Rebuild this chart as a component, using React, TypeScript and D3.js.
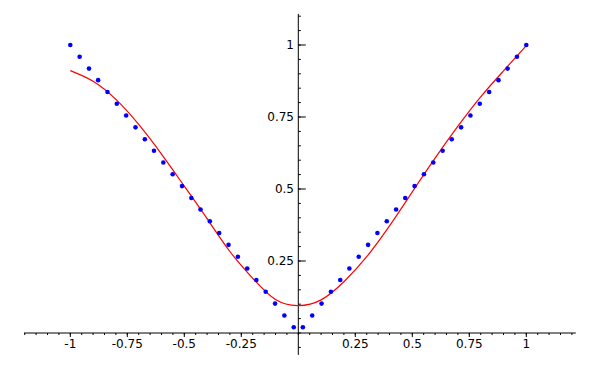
import React from "react";
import * as d3 from "d3";

// Blue data points (x, |x|)
const pointX = [-1, -0.959, -0.918, -0.878, -0.837, -0.796, -0.755, -0.714, -0.673, -0.633, -0.592, -0.551, -0.51, -0.469, -0.429, -0.388, -0.347, -0.306, -0.265, -0.224, -0.184, -0.143, -0.102, -0.061, -0.02, 0.02, 0.061, 0.102, 0.143, 0.184, 0.224, 0.265, 0.306, 0.347, 0.388, 0.429, 0.469, 0.51, 0.551, 0.592, 0.633, 0.673, 0.714, 0.755, 0.796, 0.837, 0.878, 0.918, 0.959, 1];
const pointY = [1, 0.959, 0.918, 0.878, 0.837, 0.796, 0.755, 0.714, 0.673, 0.633, 0.592, 0.551, 0.51, 0.469, 0.429, 0.388, 0.347, 0.306, 0.265, 0.224, 0.184, 0.143, 0.102, 0.061, 0.02, 0.02, 0.061, 0.102, 0.143, 0.184, 0.224, 0.265, 0.306, 0.347, 0.388, 0.429, 0.469, 0.51, 0.551, 0.592, 0.633, 0.673, 0.714, 0.755, 0.796, 0.837, 0.878, 0.918, 0.959, 1];

// Red fitted curve
const curveX = [-1, -0.9, -0.8, -0.7, -0.6, -0.5, -0.4, -0.3, -0.2, -0.1, 0, 0.1, 0.2, 0.3, 0.4, 0.5, 0.6, 0.7, 0.8, 0.9, 1];
const curveY = [0.911, 0.874, 0.811, 0.724, 0.621, 0.51, 0.397, 0.283, 0.19, 0.116, 0.095, 0.115, 0.178, 0.265, 0.372, 0.49, 0.607, 0.718, 0.82, 0.91, 0.998];

// Ticks
const xMajorTicks = [-1, -0.75, -0.5, -0.25, 0.25, 0.5, 0.75, 1];
const xMajorLabels = ["-1", "-0.75", "-0.5", "-0.25", "0.25", "0.5", "0.75", "1"];
const yMajorTicks = [0.25, 0.5, 0.75, 1];
const yMajorLabels = ["0.25", "0.5", "0.75", "1"];

const X_EXTENT = [-1.203, 1.217];
const Y_EXTENT = [-0.076, 1.108];

export default function App() {
  const W = 600;
  const H = 370;
  const x = d3.scaleLinear().domain([-1, 1]).range([70.3, 526.3]);
  const y = d3.scaleLinear().domain([0, 1]).range([333, 45]);

  const xMinor = d3.range(-24, 25).map((i) => i * 0.05).filter((v) => v >= X_EXTENT[0] && v <= X_EXTENT[1]);
  const yMinor = d3.range(-1, 23).map((i) => i * 0.05).filter((v) => v >= Y_EXTENT[0] && v <= Y_EXTENT[1]);

  const line = d3
    .line<number>()
    .x((_, i) => x(curveX[i]))
    .y((d) => y(d))
    .curve(d3.curveNatural);

  const font = "DejaVu Sans, sans-serif";
  const x0 = x(0);
  const y0 = y(0);

  return (
    <svg width={W} height={H} style={{ position: "absolute", left: 0, top: 0 }}>
      <rect width={W} height={H} fill="#fff" />
      {/* axes */}
      <line x1={x(X_EXTENT[0])} x2={x(X_EXTENT[1])} y1={y0} y2={y0} stroke="#000" strokeWidth={1} />
      <line x1={x0} x2={x0} y1={y(Y_EXTENT[0])} y2={y(Y_EXTENT[1])} stroke="#000" strokeWidth={1} />
      {xMinor.map((v, i) => (
        <line key={"xm" + i} x1={x(v)} x2={x(v)} y1={y0} y2={y0 + 2} stroke="#000" strokeWidth={1} />
      ))}
      {yMinor.map((v, i) => (
        <line key={"ym" + i} x1={x0} x2={x0 + 2.5} y1={y(v)} y2={y(v)} stroke="#000" strokeWidth={1} />
      ))}
      {xMajorTicks.map((v, i) => (
        <g key={"xt" + i}>
          <line x1={x(v)} x2={x(v)} y1={y0} y2={y0 + 4} stroke="#000" strokeWidth={1} />
          <text x={x(v)} y={347.7} textAnchor="middle" fontFamily={font} fontSize={12} fill="#000">
            {xMajorLabels[i]}
          </text>
        </g>
      ))}
      {yMajorTicks.map((v, i) => (
        <g key={"yt" + i}>
          <line x1={x0} x2={x0 + 7.5} y1={y(v)} y2={y(v)} stroke="#000" strokeWidth={1} />
          <text x={294} y={y(v) + 4.4} textAnchor="end" fontFamily={font} fontSize={12} fill="#000">
            {yMajorLabels[i]}
          </text>
        </g>
      ))}
      {/* curve */}
      <path d={line(curveY) || ""} fill="none" stroke="#ff0000" strokeWidth={1.2} />
      {/* points */}
      {pointX.map((v, i) => (
        <circle key={"p" + i} cx={x(v)} cy={y(pointY[i])} r={2.3} fill="#0000ff" />
      ))}
    </svg>
  );
}
